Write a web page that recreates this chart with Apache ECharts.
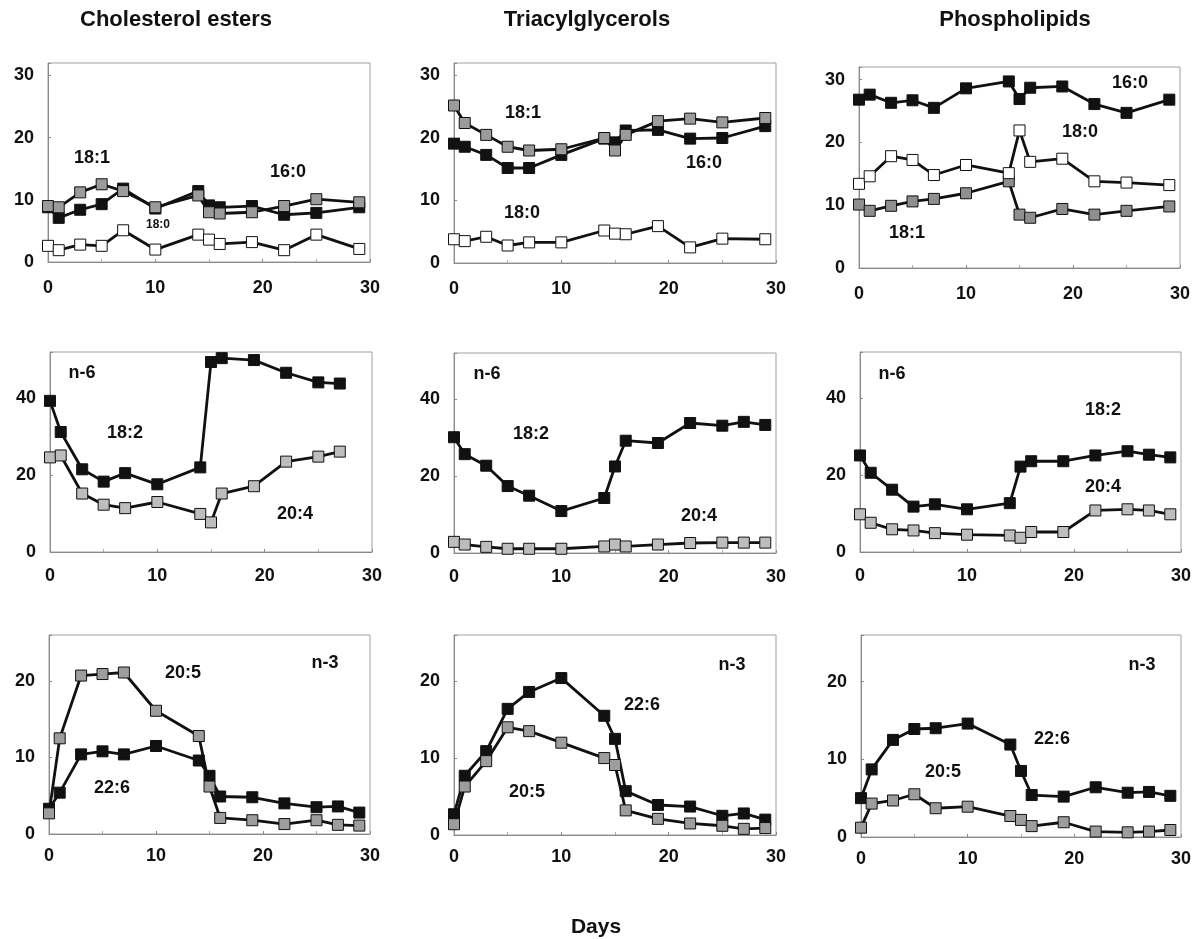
<!DOCTYPE html>
<html>
<head>
<meta charset="utf-8">
<title>Fatty acids</title>
<script src="https://cdn.jsdelivr.net/npm/echarts@6/dist/echarts.min.js"></script>
<style>
  html, body { margin: 0; padding: 0; background: #fff; }
  #chart { width: 1196px; height: 939px; }
</style>
</head>
<body>
<div id="chart"></div>
<script>
// days sampled (row 1 and CE n-6 miss some points)
var daysA = [0, 1, 3, 5, 7, 10, 14, 15, 16, 19, 22, 25, 29];
var daysB = [0, 1, 3, 5, 7, 10, 14, 15, 16, 19, 22, 25, 27];
var daysC = [0, 1, 3, 5, 7, 10, 14, 15, 16, 19, 22, 25, 27, 29];

var columnTitles = ['Cholesterol esters', 'Triacylglycerols', 'Phospholipids'];

// saturated / monounsaturated
var ce160 = [8.8, 7.1, 8.4, 9.3, 11.8, 8.6, 11.4, 9.1, 8.8, 9.0, 7.6, 7.9, 8.8];
var ce181 = [9.0, 8.8, 11.2, 12.5, 11.4, 8.8, 10.7, 8.0, 7.8, 8.0, 9.0, 10.1, 9.6];
var ce180 = [2.6, 1.9, 2.8, 2.6, 5.1, 2.0, 4.4, 3.6, 2.9, 3.2, 1.9, 4.4, 2.1];

var tag160 = [19.1, 18.6, 17.3, 15.2, 15.2, 17.3, 19.9, 19.3, 21.2, 21.3, 19.9, 20.0, 21.9];
var tag181 = [25.2, 22.4, 20.5, 18.6, 18.0, 18.2, 20.0, 18.0, 20.5, 22.7, 23.1, 22.5, 23.2];
var tag180 = [3.8, 3.5, 4.2, 2.8, 3.3, 3.3, 5.2, 4.7, 4.6, 5.9, 2.5, 3.9, 3.8];

var pl160 = [26.8, 27.6, 26.3, 26.7, 25.5, 28.6, 29.7, 26.9, 28.7, 28.9, 26.1, 24.7, 26.8];
var pl180 = [13.4, 14.6, 17.8, 17.2, 14.8, 16.4, 15.1, 21.9, 16.9, 17.4, 13.8, 13.6, 13.2];
var pl181 = [10.1, 9.1, 9.9, 10.6, 11.0, 11.9, 13.8, 8.5, 8.0, 9.4, 8.5, 9.1, 9.8];

// n-6
var ce182 = [39.3, 31.2, 21.5, 18.3, 20.5, 17.6, 22.0, 49.4, 50.4, 49.9, 46.6, 44.1, 43.8];
var ce204 = [24.6, 25.1, 15.2, 12.3, 11.4, 13.0, 9.9, 7.7, 15.2, 17.1, 23.5, 24.8, 26.1];
var tag182 = [30.1, 25.7, 22.7, 17.4, 14.9, 10.9, 14.3, 22.5, 29.2, 28.6, 33.8, 33.1, 34.1, 33.3];
var tag204 = [2.9, 2.2, 1.6, 1.1, 1.1, 1.1, 1.7, 2.2, 1.7, 2.2, 2.6, 2.7, 2.7, 2.7];
var pl182 = [25.1, 20.6, 16.2, 11.8, 12.4, 11.1, 12.7, 22.2, 23.6, 23.6, 25.1, 26.2, 25.3, 24.6];
var pl204 = [9.8, 7.6, 5.9, 5.6, 4.9, 4.5, 4.3, 3.7, 5.2, 5.2, 10.8, 11.1, 10.8, 9.8];

// n-3
var ce205 = [2.7, 12.5, 20.7, 20.9, 21.1, 16.1, 12.8, 6.2, 2.1, 1.8, 1.3, 1.8, 1.2, 1.1];
var ce226 = [3.3, 5.4, 10.4, 10.8, 10.4, 11.5, 9.6, 7.6, 4.9, 4.8, 4.0, 3.5, 3.6, 2.8];
var tag226 = [2.7, 7.7, 10.9, 16.4, 18.6, 20.4, 15.5, 12.5, 5.7, 3.9, 3.7, 2.5, 2.8, 2.0];
var tag205 = [1.4, 6.3, 9.6, 14.0, 13.5, 12.0, 10.0, 9.1, 3.2, 2.1, 1.5, 1.2, 0.8, 0.9];
var pl226 = [5.0, 8.7, 12.5, 13.9, 14.0, 14.6, 11.9, 8.5, 5.4, 5.2, 6.4, 5.7, 5.8, 5.3];
var pl205 = [1.2, 4.3, 4.7, 5.5, 3.7, 3.9, 2.7, 2.2, 1.4, 1.9, 0.7, 0.6, 0.7, 0.9];

var FONT = '"Liberation Sans", Arial, sans-serif';
var BLACK = '#111111', WHITE = '#ffffff';
var GREY1 = '#9b9b9b', GREY2 = '#bdbdbd', GREY3 = '#9d9d9d';

// panel boxes (pixels) and y ranges
var panels = [
  { left: 48,  top: 63,  width: 322, height: 199, ymax: 32, step: 10, lm: 17 },
  { left: 454, top: 63,  width: 322, height: 200, ymax: 32, step: 10, lm: 17 },
  { left: 859, top: 67,  width: 321, height: 201, ymax: 32, step: 10, lm: 17 },
  { left: 50,  top: 352, width: 322, height: 200, ymax: 52, step: 20, lm: 15 },
  { left: 454, top: 353, width: 322, height: 200, ymax: 52, step: 20, lm: 15 },
  { left: 860, top: 352, width: 321, height: 200, ymax: 52, step: 20, lm: 15 },
  { left: 49,  top: 635, width: 321, height: 199, ymax: 26, step: 10, lm: 13 },
  { left: 454, top: 635, width: 322, height: 200, ymax: 26, step: 10, lm: 13 },
  { left: 861, top: 635, width: 320, height: 202, ymax: 26, step: 10, lm: 13 }
];

function pairs(xs, ys) {
  return ys.map(function (v, i) { return [xs[i], v]; });
}

function line(idx, name, xs, ys, fill) {
  return {
    name: name, type: 'line', xAxisIndex: idx, yAxisIndex: idx,
    data: pairs(xs, ys),
    symbol: 'rect', symbolSize: 11,
    lineStyle: { color: BLACK, width: 2.8 },
    itemStyle: { color: fill, borderColor: BLACK, borderWidth: 1 },
    animation: false
  };
}

var series = [
  line(0, '16:0', daysA, ce160, BLACK),
  line(0, '18:1', daysA, ce181, GREY1),
  line(0, '18:0', daysA, ce180, WHITE),
  line(1, '18:0', daysA, tag180, WHITE),
  line(1, '16:0', daysA, tag160, BLACK),
  line(1, '18:1', daysA, tag181, GREY1),
  line(2, '16:0', daysA, pl160, BLACK),
  line(2, '18:1', daysA, pl181, '#8f8f8f'),
  line(2, '18:0', daysA, pl180, WHITE),
  line(3, '18:2', daysB, ce182, BLACK),
  line(3, '20:4', daysB, ce204, GREY2),
  line(4, '18:2', daysC, tag182, BLACK),
  line(4, '20:4', daysC, tag204, GREY2),
  line(5, '18:2', daysC, pl182, BLACK),
  line(5, '20:4', daysC, pl204, GREY2),
  line(6, '22:6', daysC, ce226, BLACK),
  line(6, '20:5', daysC, ce205, GREY3),
  line(7, '22:6', daysC, tag226, BLACK),
  line(7, '20:5', daysC, tag205, GREY3),
  line(8, '22:6', daysC, pl226, BLACK),
  line(8, '20:5', daysC, pl205, GREY3)
];

var grids = [], xAxes = [], yAxes = [];
panels.forEach(function (p, i) {
  grids.push({
    left: p.left, top: p.top, width: p.width, height: p.height,
    show: true, borderColor: '#a0a0a0', borderWidth: 1, backgroundColor: '#fff'
  });
  xAxes.push({
    type: 'value', gridIndex: i, min: 0, max: 30, interval: 10,
    axisLine: { show: true, lineStyle: { color: '#8a8a8a' } },
    axisTick: { show: true, inside: true, length: 3, lineStyle: { color: '#8a8a8a' } },
    minorTick: { show: true, splitNumber: 2, length: 3, lineStyle: { color: '#aaa' } },
    splitLine: { show: false },
    axisLabel: { margin: p.lm, color: '#111', fontFamily: FONT, fontWeight: 'bold', fontSize: 18 }
  });
  var step = p.step;
  yAxes.push({
    type: 'value', gridIndex: i, min: 0, max: p.ymax, interval: step,
    axisLine: { show: true, lineStyle: { color: '#8a8a8a' } },
    axisTick: { show: true, inside: true, length: 3, lineStyle: { color: '#8a8a8a' } },
    splitLine: { show: false },
    axisLabel: {
      margin: 14, color: '#111', fontFamily: FONT, fontWeight: 'bold', fontSize: 18,
      formatter: function (v) { return v % step === 0 ? String(v) : ''; }
    }
  });
});

function txt(s, x, y, size) {
  return {
    type: 'text', x: x, y: y, z: 100,
    style: {
      text: s, fill: '#111', font: 'bold ' + (size || 18) + 'px ' + FONT,
      textAlign: 'center', textVerticalAlign: 'middle', align: 'center', verticalAlign: 'middle'
    }
  };
}

var graphics = [
  txt(columnTitles[0], 176, 20, 22),
  txt(columnTitles[1], 587, 20, 22),
  txt(columnTitles[2], 1015, 20, 22),
  txt('Days', 596, 927, 21),
  txt('18:1', 92, 158), txt('16:0', 288, 172), txt('18:0', 158, 225, 12),
  txt('18:1', 523, 113), txt('16:0', 704, 163), txt('18:0', 522, 213),
  txt('16:0', 1130, 83), txt('18:0', 1080, 132), txt('18:1', 907, 233),
  txt('n-6', 82, 373), txt('18:2', 125, 433), txt('20:4', 295, 514),
  txt('n-6', 487, 374), txt('18:2', 531, 434), txt('20:4', 699, 516),
  txt('n-6', 892, 374), txt('18:2', 1103, 410), txt('20:4', 1103, 487),
  txt('20:5', 183, 673), txt('n-3', 325, 663), txt('22:6', 112, 788),
  txt('n-3', 732, 665), txt('22:6', 642, 705), txt('20:5', 527, 792),
  txt('n-3', 1142, 665), txt('22:6', 1052, 739), txt('20:5', 943, 772)
];

var chart = echarts.init(document.getElementById('chart'), null, { renderer: 'canvas' });
chart.setOption({
  backgroundColor: '#ffffff',
  animation: false,
  grid: grids,
  xAxis: xAxes,
  yAxis: yAxes,
  series: series,
  graphic: graphics
});
</script>
</body>
</html>
